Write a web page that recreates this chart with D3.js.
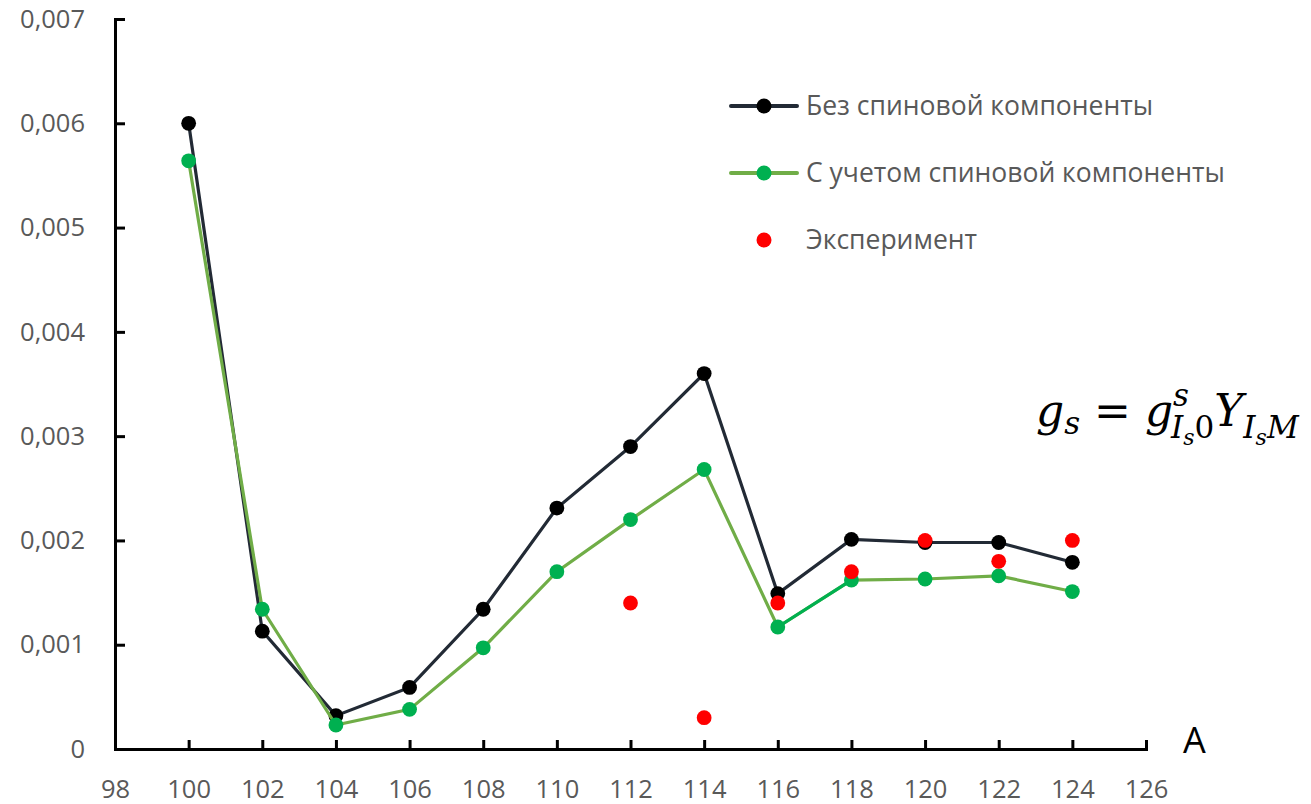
<!DOCTYPE html>
<html>
<head>
<meta charset="utf-8">
<script src="https://cdn.jsdelivr.net/npm/d3@7"></script>
<style>
  body { margin: 0; background: #fff; }
  text { font-family: "Open Sans", sans-serif; }
</style>
</head>
<body>
<div id="wrapper"></div>
<script>
// mass number A
let massNumbers = [100, 102, 104, 106, 108, 110, 112, 114, 116, 118, 120, 122, 124]
// без спиновой компоненты
let noSpin = [0.0060, 0.00113, 0.00032, 0.00059, 0.00134, 0.00231, 0.00290, 0.00360, 0.00149, 0.00201, 0.00198, 0.00198, 0.00179]
// с учетом спиновой компоненты
let withSpin = [0.00564, 0.00134, 0.00023, 0.00038, 0.00097, 0.00170, 0.00220, 0.00268, 0.00117, 0.00162, 0.00163, 0.00166, 0.00151]
// эксперимент
let expA = [112, 114, 116, 118, 120, 122, 124]
let expValues = [0.0014, 0.0003, 0.0014, 0.0017, 0.0020, 0.0018, 0.0020]

let xTicks = [98, 100, 102, 104, 106, 108, 110, 112, 114, 116, 118, 120, 122, 124, 126]
let yTicks = [0, 0.001, 0.002, 0.003, 0.004, 0.005, 0.006, 0.007]
let legendLabels = ["Без спиновой компоненты", "С учетом спиновой компоненты", "Эксперимент"]

let dimensions = {
    width: 1311,
    height: 804,
    margin: { top: 19, right: 165, bottom: 55, left: 115 }
}
let innerW = dimensions.width - dimensions.margin.left - dimensions.margin.right
let innerH = dimensions.height - dimensions.margin.top - dimensions.margin.bottom

let svg = d3.select("#wrapper")
    .append("svg")
    .attr("width", dimensions.width)
    .attr("height", dimensions.height)

let g = svg.append("g")
    .attr("transform", `translate(${dimensions.margin.left},${dimensions.margin.top})`)

let x = d3.scaleLinear().domain([98, 126]).range([0, innerW])
let y = d3.scaleLinear().domain([0, 0.007]).range([innerH, 0])

let ru = d3.formatLocale({ decimal: ",", thousands: " ", grouping: [3], currency: ["", ""] })
let fmt = ru.format(".3f")

// axes
let yAxis = g.append("g")
    .call(d3.axisLeft(y).tickValues(yTicks).tickSize(-10).tickPadding(30)
        .tickFormat(d => d === 0 ? "0" : fmt(d)))
let xAxis = g.append("g")
    .attr("transform", `translate(0,${innerH})`)
    .call(d3.axisBottom(x).tickValues(xTicks).tickSize(-9).tickPadding(31))

for (let ax of [xAxis, yAxis]) {
    ax.selectAll("path, line").attr("stroke", "#000").attr("stroke-width", 3)
    ax.selectAll("text").attr("fill", "#595959").style("font-size", "25.5px")
        .style("font-family", "'Open Sans', sans-serif")
}
xAxis.selectAll("text").attr("dy", "0.72em")

g.append("text")
    .attr("x", x(126) + 37)
    .attr("y", innerH + 4)
    .attr("font-size", 36)
    .attr("fill", "#000")
    .text("A")

let line = d3.line()
    .x((d, i) => x(massNumbers[i]))
    .y(d => y(d))

let r = 7.4

// series 1
g.append("path").datum(noSpin)
    .attr("d", line).attr("fill", "none")
    .attr("stroke", "#222A35").attr("stroke-width", 3.2)
g.append("g").selectAll("circle").data(noSpin).join("circle")
    .attr("cx", (d, i) => x(massNumbers[i])).attr("cy", d => y(d))
    .attr("r", r).attr("fill", "#000")

// series 2
g.append("path").datum(withSpin)
    .attr("d", line).attr("fill", "none")
    .attr("stroke", "#70AD47").attr("stroke-width", 3.2)
// one segment is formatted differently in the original
let seg = massNumbers.indexOf(116)
g.append("path").datum(withSpin.slice(seg, seg + 2))
    .attr("d", d3.line().x((d, i) => x(massNumbers[seg + i])).y(d => y(d)))
    .attr("fill", "none").attr("stroke", "#00B050").attr("stroke-width", 3.2)
g.append("g").selectAll("circle").data(withSpin).join("circle")
    .attr("cx", (d, i) => x(massNumbers[i])).attr("cy", d => y(d))
    .attr("r", r).attr("fill", "#00B050")

// experiment
g.append("g").selectAll("circle").data(expValues).join("circle")
    .attr("cx", (d, i) => x(expA[i])).attr("cy", d => y(d))
    .attr("r", r).attr("fill", "#FF0000")

// legend
let legend = svg.append("g").attr("transform", "translate(731,106)")
let legendStyle = [
    { line: "#222A35", dot: "#000" },
    { line: "#70AD47", dot: "#00B050" },
    { line: null, dot: "#FF0000" }
]
legendLabels.forEach((label, i) => {
    let row = legend.append("g").attr("transform", `translate(0,${i * 67})`)
    if (legendStyle[i].line) {
        row.append("line").attr("x1", 0).attr("x2", 66)
            .attr("stroke", legendStyle[i].line).attr("stroke-width", 4)
            .attr("stroke-linecap", "round")
    }
    row.append("circle").attr("cx", 33).attr("r", 7.5).attr("fill", legendStyle[i].dot)
    row.append("text").attr("x", 75).attr("dy", "0.35em")
        .attr("fill", "#595959").style("font-size", "26.5px")
        .text(label)
})

// formula
let f = svg.append("text")
    .attr("x", 1036).attr("y", 426)
    .style("font-family", "'DejaVu Serif', serif")
    .style("font-style", "italic")
    .style("font-size", "44px")
    .attr("fill", "#000")
f.append("tspan").text("g")
f.append("tspan").attr("dy", 8).style("font-size", "31px").text("s")
f.append("tspan").attr("dy", -8).style("font-style", "normal").text(" = ")
f.append("tspan").text("g")
f.append("tspan").attr("dy", -20).style("font-size", "31px").text("s")
f.append("tspan").attr("dy", 32).attr("dx", -18).style("font-size", "31px").text("I")
f.append("tspan").attr("dy", 7).style("font-size", "22px").text("s")
f.append("tspan").attr("dy", -7).style("font-size", "31px").style("font-style", "normal").text("0")
f.append("tspan").attr("dy", -12).text("Y")
f.append("tspan").attr("dy", 12).style("font-size", "31px").text("I")
f.append("tspan").attr("dy", 7).style("font-size", "22px").text("s")
f.append("tspan").attr("dy", -7).style("font-size", "31px").text("M")
</script>
</body>
</html>
